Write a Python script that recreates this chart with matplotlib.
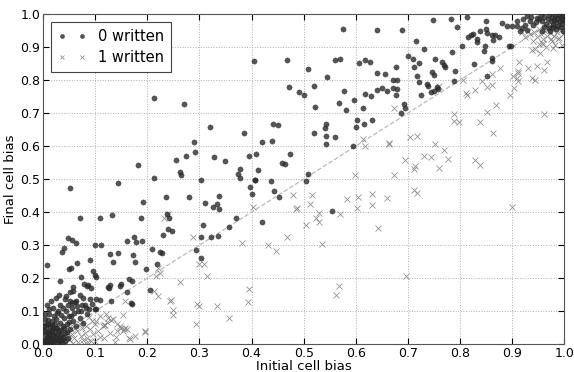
import numpy as np
import matplotlib
matplotlib.use("Agg")
import matplotlib.pyplot as plt

# "0 written" cells: (initial bias, final bias)
zero_written = [
    (0.212, 0.745), (0.271, 0.729), (0.321, 0.657), (0.289, 0.613), (0.292, 0.581),
    (0.275, 0.570), (0.328, 0.568), (0.255, 0.558), (0.182, 0.544), (0.262, 0.523),
    (0.264, 0.511), (0.212, 0.504), (0.575, 0.955), (0.640, 0.951), (0.404, 0.858),
    (0.468, 0.862), (0.561, 0.861), (0.570, 0.863), (0.607, 0.852), (0.618, 0.860),
    (0.627, 0.854), (0.509, 0.835), (0.544, 0.808), (0.641, 0.822), (0.657, 0.819),
    (0.472, 0.780), (0.491, 0.765), (0.500, 0.756), (0.519, 0.783), (0.578, 0.767),
    (0.617, 0.757), (0.641, 0.771), (0.650, 0.776), (0.659, 0.767), (0.630, 0.751),
    (0.596, 0.741), (0.568, 0.731), (0.522, 0.720), (0.613, 0.717), (0.581, 0.710),
    (0.602, 0.678), (0.632, 0.680), (0.616, 0.667), (0.600, 0.658), (0.385, 0.640),
    (0.441, 0.667), (0.450, 0.664), (0.543, 0.666), (0.541, 0.656), (0.519, 0.641),
    (0.543, 0.631), (0.560, 0.628), (0.543, 0.607), (0.594, 0.601), (0.420, 0.613),
    (0.439, 0.615), (0.349, 0.554), (0.395, 0.569), (0.408, 0.576), (0.474, 0.576),
    (0.459, 0.548), (0.465, 0.546), (0.378, 0.531), (0.412, 0.528), (0.374, 0.515),
    (0.378, 0.502), (0.406, 0.498), (0.508, 0.517),
    (0.749, 0.981), (0.783, 0.984), (0.813, 0.991), (0.689, 0.953), (0.795, 0.960),
    (0.850, 0.979), (0.881, 0.972), (0.715, 0.918), (0.815, 0.931), (0.821, 0.937),
    (0.825, 0.940), (0.833, 0.924), (0.833, 0.916), (0.838, 0.948), (0.850, 0.955),
    (0.851, 0.942), (0.861, 0.937), (0.867, 0.937), (0.875, 0.931), (0.864, 0.921),
    (0.891, 0.964), (0.900, 0.965), (0.909, 0.964), (0.918, 0.957), (0.925, 0.967),
    (0.928, 0.952), (0.915, 0.950), (0.929, 0.994), (0.937, 0.990), (0.947, 0.987),
    (0.848, 0.903), (0.846, 0.889), (0.894, 0.902), (0.898, 0.903), (0.804, 0.904),
    (0.784, 0.886), (0.730, 0.893), (0.701, 0.874), (0.710, 0.863), (0.752, 0.863),
    (0.722, 0.853), (0.765, 0.855), (0.770, 0.847), (0.711, 0.839), (0.678, 0.839),
    (0.772, 0.840), (0.791, 0.829), (0.827, 0.848), (0.861, 0.867), (0.862, 0.859),
    (0.747, 0.825), (0.751, 0.816), (0.718, 0.813), (0.851, 0.812), (0.671, 0.800),
    (0.679, 0.800), (0.722, 0.795), (0.788, 0.798), (0.737, 0.789), (0.739, 0.783),
    (0.671, 0.776), (0.679, 0.774), (0.755, 0.780), (0.758, 0.772), (0.750, 0.767),
    (0.744, 0.764), (0.726, 0.756), (0.678, 0.756), (0.692, 0.727), (0.694, 0.715),
    (0.687, 0.700),
    (0.952, 0.985), (0.958, 0.978), (0.961, 0.992), (0.965, 0.970), (0.968, 0.985),
    (0.971, 0.996), (0.974, 0.979), (0.976, 0.990), (0.979, 0.968), (0.981, 0.983),
    (0.983, 0.995), (0.985, 0.975), (0.987, 0.988), (0.989, 0.998), (0.991, 0.980),
    (0.993, 0.992), (0.995, 0.972), (0.996, 0.986), (0.998, 0.995), (0.999, 0.981),
    (0.955, 0.998), (0.962, 0.962), (0.970, 0.958), (0.978, 0.960), (0.988, 0.963),
    (0.994, 0.960), (0.945, 0.975), (0.940, 0.968), (0.934, 0.980), (0.957, 0.950),
    (0.972, 0.950), (0.985, 0.955), (0.997, 0.950), (0.920, 0.985), (0.910, 0.978),
    (0.406, 0.496), (0.437, 0.493), (0.504, 0.493), (0.397, 0.476), (0.401, 0.454),
    (0.443, 0.465), (0.453, 0.447), (0.337, 0.450), (0.333, 0.426), (0.326, 0.415),
    (0.337, 0.409), (0.370, 0.381), (0.420, 0.369), (0.356, 0.354), (0.323, 0.325),
    (0.335, 0.328), (0.555, 0.403),
    (0.052, 0.473), (0.143, 0.489), (0.303, 0.496), (0.191, 0.431), (0.236, 0.446),
    (0.280, 0.446), (0.310, 0.428), (0.070, 0.383), (0.109, 0.382), (0.133, 0.392),
    (0.188, 0.383), (0.238, 0.393), (0.242, 0.381), (0.306, 0.360), (0.240, 0.350),
    (0.248, 0.344), (0.231, 0.331), (0.303, 0.324), (0.048, 0.322), (0.056, 0.314),
    (0.063, 0.306), (0.040, 0.292), (0.037, 0.279), (0.008, 0.240), (0.099, 0.301),
    (0.112, 0.300), (0.162, 0.313), (0.174, 0.325), (0.179, 0.310), (0.189, 0.312),
    (0.209, 0.287), (0.293, 0.286), (0.129, 0.272), (0.144, 0.275), (0.173, 0.269),
    (0.225, 0.279), (0.228, 0.275), (0.065, 0.246), (0.053, 0.232), (0.049, 0.229),
    (0.090, 0.256), (0.134, 0.250), (0.176, 0.250), (0.197, 0.229), (0.219, 0.244),
    (0.303, 0.261), (0.095, 0.221), (0.072, 0.202), (0.032, 0.191), (0.100, 0.208),
    (0.101, 0.203), (0.206, 0.163), (0.164, 0.198), (0.128, 0.179), (0.127, 0.170),
    (0.150, 0.181), (0.147, 0.175), (0.170, 0.191), (0.162, 0.159), (0.079, 0.183),
    (0.085, 0.177), (0.092, 0.171), (0.058, 0.161), (0.052, 0.158), (0.070, 0.149),
    (0.044, 0.146), (0.042, 0.136), (0.055, 0.126), (0.051, 0.131), (0.064, 0.131),
    (0.077, 0.139), (0.090, 0.138), (0.101, 0.136), (0.109, 0.134), (0.168, 0.126),
    (0.170, 0.121), (0.131, 0.131), (0.099, 0.106), (0.058, 0.173), (0.086, 0.178),
    (0.125, 0.173), (0.102, 0.106),
    (0.002, 0.005), (0.005, 0.015), (0.008, 0.003), (0.010, 0.025), (0.012, 0.010),
    (0.014, 0.040), (0.016, 0.020), (0.018, 0.003), (0.020, 0.032), (0.022, 0.012),
    (0.024, 0.050), (0.026, 0.022), (0.028, 0.006), (0.030, 0.040), (0.032, 0.065),
    (0.034, 0.028), (0.036, 0.014), (0.038, 0.055), (0.040, 0.080), (0.042, 0.035),
    (0.044, 0.100), (0.046, 0.060), (0.048, 0.020), (0.050, 0.085), (0.052, 0.045),
    (0.055, 0.110), (0.058, 0.070), (0.060, 0.095), (0.063, 0.055), (0.066, 0.115),
    (0.070, 0.080), (0.073, 0.100), (0.077, 0.065), (0.080, 0.120), (0.084, 0.090),
    (0.088, 0.105), (0.003, 0.030), (0.006, 0.045), (0.009, 0.060), (0.004, 0.075),
    (0.011, 0.090), (0.007, 0.020), (0.013, 0.055), (0.017, 0.070), (0.019, 0.048),
    (0.021, 0.085), (0.025, 0.075), (0.027, 0.095), (0.031, 0.012), (0.035, 0.088),
    (0.039, 0.110), (0.043, 0.008), (0.047, 0.120), (0.001, 0.012), (0.015, 0.002),
    (0.023, 0.060), (0.029, 0.100), (0.033, 0.120), (0.037, 0.002), (0.041, 0.050),
    (0.012, 0.105), (0.008, 0.120), (0.016, 0.130), (0.024, 0.140), (0.030, 0.150),
    (0.019, 0.110), (0.004, 0.040), (0.006, 0.008), (0.009, 0.035), (0.011, 0.018),
    (0.013, 0.030), (0.015, 0.012), (0.017, 0.042), (0.019, 0.024), (0.021, 0.006),
    (0.023, 0.036), (0.025, 0.016), (0.027, 0.050), (0.029, 0.030), (0.033, 0.008),
    (0.035, 0.044), (0.039, 0.022), (0.045, 0.038), (0.049, 0.068), (0.054, 0.085),
    (0.002, 0.055), (0.003, 0.090), (0.005, 0.062), (0.010, 0.072), (0.018, 0.058),
    (0.062, 0.128), (0.068, 0.100), (0.075, 0.118), (0.082, 0.110), (0.094, 0.122),
]

# "1 written" cells: (initial bias, final bias)
one_written = [
    (0.614, 0.621), (0.617, 0.599), (0.663, 0.608), (0.599, 0.513), (0.938, 0.891),
    (0.944, 0.893), (0.953, 0.883), (0.951, 0.911), (0.974, 0.924), (0.960, 0.908),
    (0.979, 0.896), (0.988, 0.924), (0.914, 0.856), (0.967, 0.854), (0.930, 0.838),
    (0.948, 0.843), (0.961, 0.831), (0.877, 0.837), (0.912, 0.828), (0.911, 0.821),
    (0.861, 0.819), (0.902, 0.811), (0.909, 0.806), (0.912, 0.798), (0.938, 0.807),
    (0.943, 0.801), (0.805, 0.800), (0.843, 0.797), (0.851, 0.780), (0.861, 0.784),
    (0.760, 0.782), (0.828, 0.770), (0.811, 0.760), (0.813, 0.754), (0.904, 0.776),
    (0.895, 0.755), (0.870, 0.724), (0.674, 0.717), (0.851, 0.704), (0.962, 0.696),
    (0.789, 0.696), (0.789, 0.675), (0.798, 0.672), (0.838, 0.672), (0.864, 0.641),
    (0.705, 0.629), (0.717, 0.632), (0.664, 0.607), (0.752, 0.607), (0.770, 0.589),
    (0.731, 0.569), (0.744, 0.568), (0.777, 0.561), (0.694, 0.559), (0.713, 0.541),
    (0.711, 0.531), (0.828, 0.558), (0.839, 0.544), (0.759, 0.535), (0.673, 0.511),
    (0.659, 0.443), (0.712, 0.466), (0.717, 0.458), (0.900, 0.415), (0.696, 0.206),
    (0.480, 0.453), (0.516, 0.451), (0.512, 0.426), (0.403, 0.414), (0.486, 0.408),
    (0.488, 0.411), (0.529, 0.397), (0.523, 0.383), (0.529, 0.369), (0.504, 0.362),
    (0.570, 0.394), (0.584, 0.441), (0.604, 0.445), (0.602, 0.413), (0.632, 0.454),
    (0.632, 0.421), (0.643, 0.353), (0.468, 0.325), (0.381, 0.307), (0.432, 0.301),
    (0.447, 0.282), (0.535, 0.304), (0.567, 0.177), (0.563, 0.149), (0.395, 0.166),
    (0.394, 0.128), (0.334, 0.114), (0.356, 0.079), (0.233, 0.383), (0.240, 0.393),
    (0.288, 0.324), (0.299, 0.244), (0.309, 0.242), (0.221, 0.232), (0.225, 0.215),
    (0.216, 0.206), (0.262, 0.189), (0.315, 0.207), (0.213, 0.161), (0.221, 0.146),
    (0.243, 0.131), (0.245, 0.134), (0.250, 0.103), (0.250, 0.089), (0.296, 0.123),
    (0.299, 0.114), (0.294, 0.060), (0.157, 0.131), (0.154, 0.087), (0.131, 0.073),
    (0.147, 0.055), (0.150, 0.048), (0.156, 0.046), (0.161, 0.045), (0.142, 0.040),
    (0.195, 0.040), (0.165, 0.018), (0.140, 0.023), (0.109, 0.022), (0.115, 0.055),
    (0.118, 0.058), (0.089, 0.082), (0.093, 0.070), (0.074, 0.050), (0.099, 0.060),
    (0.087, 0.005), (0.116, 0.057), (0.122, 0.066), (0.134, 0.076), (0.141, 0.060),
    (0.128, 0.035), (0.154, 0.040), (0.157, 0.050), (0.166, 0.015), (0.176, 0.025),
    (0.195, 0.037), (0.138, 0.007), (0.116, 0.020),
    (0.010, 0.002), (0.015, 0.006), (0.020, 0.003), (0.025, 0.010), (0.030, 0.004),
    (0.035, 0.015), (0.040, 0.008), (0.045, 0.022), (0.050, 0.012), (0.055, 0.030),
    (0.060, 0.018), (0.065, 0.040), (0.068, 0.005), (0.072, 0.025), (0.076, 0.012),
    (0.080, 0.035), (0.084, 0.020), (0.090, 0.045), (0.095, 0.030), (0.100, 0.010),
    (0.105, 0.040), (0.058, 0.002), (0.048, 0.035), (0.038, 0.028), (0.028, 0.020),
    (0.018, 0.012), (0.062, 0.050), (0.070, 0.060), (0.082, 0.055), (0.092, 0.008),
    (0.102, 0.070), (0.110, 0.085), (0.120, 0.092), (0.125, 0.080), (0.005, 0.001),
    (0.043, 0.001), (0.078, 0.001), (0.053, 0.045),
    (0.930, 0.950), (0.935, 0.940), (0.942, 0.945), (0.948, 0.932), (0.952, 0.955),
    (0.956, 0.940), (0.960, 0.925), (0.963, 0.948), (0.967, 0.935), (0.970, 0.958),
    (0.973, 0.942), (0.976, 0.918), (0.978, 0.952), (0.981, 0.935), (0.984, 0.962),
    (0.986, 0.945), (0.989, 0.928), (0.991, 0.970), (0.993, 0.952), (0.995, 0.905),
    (0.997, 0.975), (0.998, 0.940), (0.999, 0.985), (0.965, 0.900), (0.958, 0.912),
    (0.940, 0.920), (0.925, 0.930), (0.918, 0.945), (0.987, 0.980), (0.972, 0.968),
    (0.982, 0.905), (0.996, 0.960),
]

ticks = np.arange(0, 1.01, 0.1)
tick_labels = ["%.1f" % t for t in ticks]

x0, y0 = zip(*zero_written)
x1, y1 = zip(*one_written)

fig = plt.figure(figsize=(5.74, 3.72), dpi=100)
ax = fig.add_axes([0.075, 0.075, 0.908, 0.887])

ax.plot([0, 1], [0, 1], linestyle="--", color="#bbbbbb", linewidth=0.9, zorder=1)
ax.plot(x0, y0, "o", color="#2a2a2a", alpha=0.8, markersize=3.8,
        markeredgewidth=0.3, label="0 written", zorder=3)
ax.plot(x1, y1, "x", color="#808080", alpha=0.85, markersize=4.2,
        markeredgewidth=0.6, label="1 written", zorder=2)

ax.set_xlim(0, 1)
ax.set_ylim(0, 1)
ax.set_xticks(ticks)
ax.set_yticks(ticks)
ax.set_xticklabels(tick_labels)
ax.set_yticklabels(tick_labels)
ax.tick_params(direction="in", top=True, right=True, labelsize=9, length=4, pad=2)
ax.grid(True, linestyle=":", color="#b0b0b0", linewidth=0.7)
for s in ax.spines.values():
    s.set_color("#555555")

ax.set_xlabel("Initial cell bias", fontsize=9.5, labelpad=0)
ax.set_ylabel("Final cell bias", fontsize=9.5, labelpad=2)

leg = ax.legend(loc="upper left", numpoints=2, fontsize=10.5, fancybox=False,
                framealpha=1, edgecolor="#444444", borderaxespad=0.55,
                handletextpad=0.8, labelspacing=0.45, borderpad=0.45,
                handlelength=2.0, markerscale=0.8)
leg.get_frame().set_linewidth(0.8)

fig.savefig("out.png", dpi=100)
